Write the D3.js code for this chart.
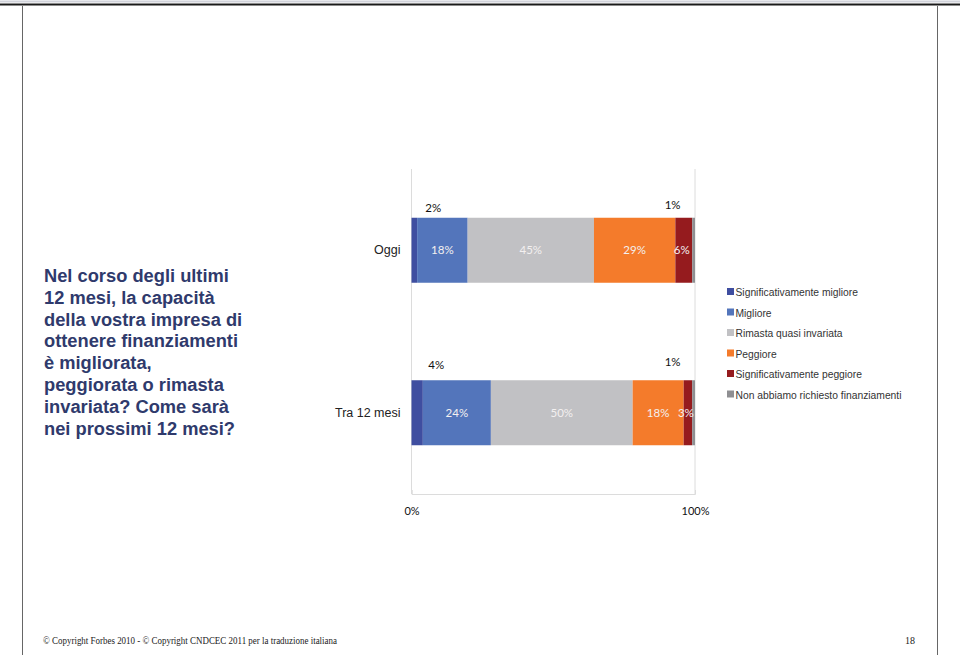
<!DOCTYPE html>
<html><head><meta charset="utf-8">
<script src="https://cdn.jsdelivr.net/npm/d3@7"></script>
<style>body{margin:0;background:#fff;}svg{display:block;}</style>
</head><body>
<script>
const categories = ["Oggi", "Tra 12 mesi"];
const seriesNames = ["Significativamente migliore","Migliore","Rimasta quasi invariata","Peggiore","Significativamente peggiore","Non abbiamo richiesto finanziamenti"];
const sigMigliore = [2, 4];
const migliore = [18, 24];
const invariata = [45, 50];
const peggiore = [29, 18];
const sigPeggiore = [6, 3];
const nonRichiesto = [1, 1];
const tickLabels = ["0%", "100%"];
const titleLines = ["Nel corso degli ultimi","12 mesi, la capacità","della vostra impresa di","ottenere finanziamenti","è migliorata,","peggiorata o rimasta","invariata? Come sarà","nei prossimi 12 mesi?"];
const colors = ["#3f4ea0","#5375bb","#c1c1c4","#f47b2b","#951b1e","#8f8f92"];

const W = 960, H = 661;
const svg = d3.select("body").append("svg").attr("width", W).attr("height", H);

// page frame
svg.append("line").attr("x1",0).attr("x2",W).attr("y1",1.5).attr("y2",1.5).attr("stroke","#d0d2da").attr("stroke-width",2);
svg.append("line").attr("x1",0).attr("x2",W).attr("y1",4.5).attr("y2",4.5).attr("stroke","#1a1a1a").attr("stroke-width",2);
svg.append("line").attr("x1",22.5).attr("x2",22.5).attr("y1",6).attr("y2",655).attr("stroke","#666").attr("stroke-width",1);
svg.append("line").attr("x1",937.5).attr("x2",937.5).attr("y1",6).attr("y2",655).attr("stroke","#666").attr("stroke-width",1);

// title
const title = svg.append("text").attr("x",44).attr("y",282)
  .attr("font-family","Liberation Sans, Arial, sans-serif").attr("font-weight","bold")
  .attr("font-size",18.3).attr("fill","#2f3a6c");
title.selectAll("tspan").data(titleLines).join("tspan")
  .attr("x",44).attr("dy",(d,i)=> i===0?0:21.8).text(d=>d);

// data
const rows = categories.map((c,i)=>({cat:c, s0:sigMigliore[i], s1:migliore[i], s2:invariata[i], s3:peggiore[i], s4:sigPeggiore[i], s5:nonRichiesto[i]}));
const keys = ["s0","s1","s2","s3","s4","s5"];
const stack = d3.stack().keys(keys).offset(d3.stackOffsetExpand)(rows);

const x = d3.scaleLinear().domain([0,1]).range([411.5,695]);
const y = d3.scaleBand().domain(categories).range([169,494]).paddingInner(0).paddingOuter(0);
const barH = 65;

// gridline at 100% & axis
svg.append("line").attr("x1",x(1)).attr("x2",x(1)).attr("y1",y.range()[0]).attr("y2",y.range()[1]).attr("stroke","#dcdcdc");
svg.append("line").attr("x1",x(0)).attr("x2",x(0)).attr("y1",y.range()[0]).attr("y2",y.range()[1]).attr("stroke","#dcdcdc");
const xAxis = d3.axisBottom(x).tickValues([0,1]).tickSize(-4).tickFormat((d,i)=>tickLabels[i]);
const ax = svg.append("g").attr("transform",`translate(0,${y.range()[1]})`).call(xAxis);
ax.select(".domain").attr("stroke","#dcdcdc");
ax.selectAll(".tick line").attr("stroke","#dcdcdc");
ax.selectAll(".tick text").attr("y",13).attr("font-family","Lato, sans-serif").attr("font-size",11).attr("fill","#111");

// category labels
svg.selectAll("text.cat").data(categories).join("text").attr("class","cat")
  .attr("x",x(0)-11).attr("y",d=>y(d)+y.bandwidth()/2+4)
  .attr("text-anchor","end").attr("font-family","Liberation Sans, Arial, sans-serif").attr("font-size",12.5).attr("fill","#222").text(d=>d);

// bars
const g = svg.append("g");
stack.forEach((layer,li)=>{
  g.selectAll(null).data(layer).join("rect")
    .attr("x",d=>x(d[0])).attr("width",d=>x(d[1])-x(d[0]))
    .attr("y",d=>y(d.data.cat)+y.bandwidth()/2-barH/2).attr("height",barH)
    .attr("fill",colors[li]);
});
// labels
stack.forEach((layer,li)=>{
  layer.forEach(d=>{
    const v = d.data[keys[li]];
    const cx = (x(d[0])+x(d[1]))/2;
    const top = y(d.data.cat)+y.bandwidth()/2-barH/2;
    if (li===0 || li===5) {
      svg.append("text").attr("x", cx + (li===0?19:-21)).attr("y", top - (li===0?10:13) + (d.data.cat==="Oggi"?4:0) - (d.data.cat==="Oggi"?0:1))
        .attr("text-anchor","middle").attr("font-family","Lato, sans-serif").attr("font-size",11.5).attr("fill","#111").text(v+"%");
    } else {
      svg.append("text").attr("x",cx - (li===4?2:0)).attr("y",top+barH/2+4)
        .attr("text-anchor","middle").attr("font-family","Lato, sans-serif").attr("font-size",11.5).attr("fill","#f3f0f0").text(v+"%");
    }
  });
});

// legend
const lg = svg.append("g").attr("transform","translate(727,292)");
const li = lg.selectAll("g").data(seriesNames).join("g").attr("transform",(d,i)=>`translate(0,${i*20.5})`);
li.append("rect").attr("x",0).attr("y",-4).attr("width",7).attr("height",7).attr("fill",(d,i)=>colors[i]);
li.append("text").attr("x",8.5).attr("y",4).attr("font-family","Liberation Sans, Arial, sans-serif").attr("font-size",10.3).attr("fill","#333").text(d=>d);

// footer
svg.append("text").attr("x",43).attr("y",644).attr("font-family","Liberation Serif, serif").attr("font-size",10).attr("fill","#222")
  .attr("textLength",294).attr("lengthAdjust","spacingAndGlyphs")
  .text("© Copyright Forbes 2010 - © Copyright CNDCEC 2011 per la traduzione italiana");
svg.append("text").attr("x",905).attr("y",644).attr("font-family","Liberation Serif, serif").attr("font-size",10).attr("fill","#222").text("18");
</script>
</body></html>
